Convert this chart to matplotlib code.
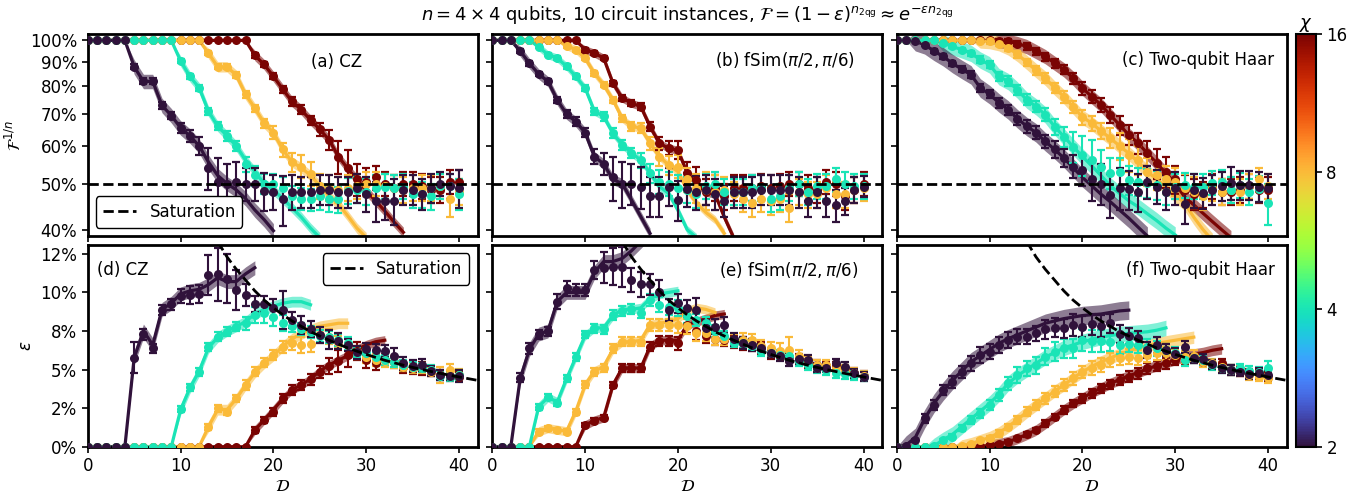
import matplotlib
matplotlib.use("Agg")
import matplotlib.pyplot as plt
import numpy as np
from matplotlib.colors import LogNorm
from matplotlib.cm import ScalarMappable
from matplotlib.ticker import NullLocator

# circuit depth of the data points, bond dimensions
depth = list(range(41))
chis = [2, 4, 8, 16]

# ---------------- top row: F^(1/n) in percent ----------------
# (a) CZ
fid_cz_2 = [100, 100, 100, 100, 100, 88, 82, 82, 73, 69.5, 65.5, 63, 60, 54, 50.5, 50, 50.5, 50, 50, 48.2,
            48, 46.3, 48, 48, 48, 48.5, 48.5, 48, 48, 49, 47.5, 46, 46, 46, 48.5, 48.5, 47.5, 49, 50, 49.5, 49]
fid_cz_2_err = [0, 0, 0, 0, 0, 1.0, 1.2, 1.2, 1.2, 1.3, 1.5, 1.8, 2.5, 5.5, 6.0, 5.0, 5.0, 4.0, 4.0, 4.5,
                4.0, 5.5, 4.0, 3.5, 3.5, 3.5, 3.5, 3.5, 3.5, 3.5, 4.0, 4.5, 4.0, 5.0, 3.5, 3.5, 3.5, 3.5, 3.0, 3.0, 4.5]
fid_cz_2_line = [100, 100, 100, 100, 100, 88, 82, 82, 73, 69.5, 65.5, 63, 60, 55.5, 52, 50, 48.5, 46.5, 44, 42, 39.8]

fid_cz_4 = [100, 100, 100, 100, 100, 100, 100, 100, 100, 100, 90.5, 84, 79.5, 71, 66, 63, 60, 55, 52, 50,
            50, 49, 47, 46.5, 46.3, 47, 46.5, 46.3, 48.3, 48.5, 48, 49, 49.3, 49, 49.3, 47.5, 47.5, 47, 49.5, 49.5, 47.5]
fid_cz_4_err = [0, 0, 0, 0, 0, 0, 0, 0, 0, 0, 1.0, 1.0, 1.2, 1.2, 1.3, 1.5, 1.5, 2.0, 2.5, 2.5,
                2.5, 2.5, 2.5, 2.5, 2.5, 3.0, 3.0, 3.0, 3.0, 3.0, 3.0, 3.0, 3.0, 3.0, 3.0, 3.0, 3.0, 3.0, 3.0, 3.0, 3.5]
fid_cz_4_line = [100, 100, 100, 100, 100, 100, 100, 100, 100, 100, 90.5, 84, 79.5, 71, 66, 63, 60, 56, 53, 50,
                 48.5, 46.5, 44.5, 42.5, 40.3, 38.5]

fid_cz_8 = [100, 100, 100, 100, 100, 100, 100, 100, 100, 100, 100, 100, 100, 94, 88, 88, 84.5, 77, 72, 67,
            64, 59, 55.5, 54.3, 52.5, 49.5, 49, 48.5, 49, 49.5, 50, 50, 49.5, 49, 48.5, 49, 49, 49, 49.5, 46.5, 48]
fid_cz_8_err = [0, 0, 0, 0, 0, 0, 0, 0, 0, 0, 0, 0, 0, 1.0, 1.0, 1.0, 1.2, 1.2, 1.3, 1.5,
                2.0, 2.0, 2.5, 3.0, 3.0, 3.0, 3.0, 3.0, 3.0, 3.0, 3.0, 3.0, 3.0, 3.0, 3.0, 3.0, 3.0, 3.0, 3.0, 4.0, 3.0]
fid_cz_8_line = [100, 100, 100, 100, 100, 100, 100, 100, 100, 100, 100, 100, 100, 94, 88, 88, 84.5, 77, 72, 67,
                 64, 59, 55.5, 54, 52, 49.5, 47, 45.3, 42.8, 40.3, 38.5]

fid_cz_16 = [100, 100, 100, 100, 100, 100, 100, 100, 100, 100, 100, 100, 100, 100, 100, 100, 100, 100, 93, 89,
             84, 79, 74.4, 71.5, 68, 65, 61.8, 57, 53.8, 51, 50.5, 51.5, 50, 49, 50, 50, 49.5, 48.5, 48.5, 50.5, 50.5]
fid_cz_16_err = [0, 0, 0, 0, 0, 0, 0, 0, 0, 0, 0, 0, 0, 0, 0, 0, 0, 0, 1.0, 1.2,
                 1.2, 1.3, 1.5, 1.5, 1.5, 2.0, 3.0, 4.5, 5.0, 4.0, 3.5, 3.0, 3.0, 3.0, 3.0, 3.0, 3.0, 3.0, 3.0, 3.0, 3.0]
fid_cz_16_line = [100, 100, 100, 100, 100, 100, 100, 100, 100, 100, 100, 100, 100, 100, 100, 100, 100, 100, 93, 89,
                  84, 79, 74.4, 71.5, 68, 65, 61.8, 57, 53.8, 51, 48.3, 46, 43.8, 41.5, 39.5]

# (b) fSim(pi/2, pi/6)
fid_fsim_2 = [100, 100, 100, 95, 89.5, 85, 82, 75, 70, 67.5, 64, 57, 55, 51.5, 50, 50, 49.3, 47, 47, 49.3,
              46.2, 48.6, 47.9, 48.5, 47.5, 46, 48, 48, 48, 48.5, 48.5, 48.5, 48.5, 48, 46, 48, 46, 45, 46, 48.5, 49.3]
fid_fsim_2_err = [0, 0, 0, 1.0, 1.0, 1.0, 1.0, 1.2, 1.3, 1.5, 1.5, 2.0, 3.0, 5.5, 5.5, 5.0, 5.0, 4.5, 4.5, 4.5,
                  4.5, 4.0, 4.0, 3.5, 3.5, 3.5, 3.5, 3.5, 3.5, 3.5, 3.5, 3.5, 3.5, 3.5, 3.5, 3.5, 3.5, 3.5, 3.0, 3.0, 2.5]
fid_fsim_2_line = [100, 100, 100, 95, 89.5, 85, 82, 75, 70, 67.5, 64, 57, 55, 51, 50, 46.2, 42.6, 39.3]

fid_fsim_4 = [100, 100, 100, 100, 100, 97, 93.3, 91.8, 88.2, 84, 79.4, 71, 69.2, 63.8, 60.3, 58, 56, 52.6, 50.5, 50,
              49, 48.5, 47.5, 49.5, 50, 48, 48, 48, 49, 49, 46.5, 47, 49, 50, 48, 49.5, 49.5, 51, 50, 49.5, 49.5]
fid_fsim_4_err = [0, 0, 0, 0, 0, 0.8, 0.8, 1.0, 1.0, 1.0, 1.2, 1.2, 1.5, 1.5, 1.5, 1.5, 2.0, 2.5, 3.0, 3.0,
                  3.0, 3.0, 3.0, 3.0, 3.0, 3.0, 3.0, 3.0, 3.0, 3.0, 3.0, 3.0, 3.0, 3.0, 3.0, 3.0, 3.0, 3.0, 3.0, 3.0, 3.0]
fid_fsim_4_line = [100, 100, 100, 100, 100, 97, 93.3, 91.8, 88.2, 84, 79.4, 71, 69.2, 63.8, 60.3, 58, 56, 52.6, 49.3, 47.7,
                   44, 40, 38.5]

fid_fsim_8 = [100, 100, 100, 100, 100, 100, 100, 100, 97.5, 95.6, 91.8, 85.3, 80.7, 75, 68.6, 66, 65.4, 60.8, 57, 54.7,
              54.3, 51, 49, 48.5, 48, 48.5, 47.5, 46.5, 45.5, 46.5, 46, 46.5, 44.5, 48, 47.5, 47.5, 49, 47.5, 47.5, 48.5, 49]
fid_fsim_8_err = [0, 0, 0, 0, 0, 0, 0, 0, 1.0, 1.0, 1.0, 1.0, 1.0, 1.2, 1.2, 1.5, 1.5, 2.0, 2.5, 2.5,
                  3.0, 3.0, 3.5, 4.5, 4.0, 3.0, 3.0, 3.0, 3.0, 3.0, 3.0, 3.0, 3.0, 3.0, 3.0, 3.0, 3.0, 3.0, 3.0, 3.0, 3.0]
fid_fsim_8_line = [100, 100, 100, 100, 100, 100, 100, 100, 97.5, 95.6, 91.8, 85.3, 80.7, 75, 68.6, 66, 65.4, 60.8, 57, 54.7,
                   53, 48.5, 45.5, 43.5, 42, 39.3]

fid_fsim_16 = [100, 100, 100, 100, 100, 100, 100, 100, 100, 100, 95.6, 94, 91.8, 81.3, 75.6, 73.8, 72.6, 65.9, 60.8, 59.3,
               58.8, 52.6, 50.8, 48, 49, 47, 49, 49, 49, 49.5, 49, 49.5, 50, 50, 49, 48.5, 50.5, 50, 47, 48.5, 50]
fid_fsim_16_err = [0, 0, 0, 0, 0, 0, 0, 0, 0, 0, 1.0, 1.0, 1.0, 1.0, 1.0, 1.0, 1.2, 1.5, 2.0, 2.0,
                   2.5, 3.0, 3.5, 3.0, 3.0, 3.0, 3.0, 3.0, 3.0, 3.0, 3.0, 3.0, 3.0, 3.0, 3.0, 3.0, 3.0, 3.0, 3.0, 3.0, 3.0]
fid_fsim_16_line = [100, 100, 100, 100, 100, 100, 100, 100, 100, 100, 95.6, 94, 91.8, 81.3, 75.6, 73.8, 72.6, 65.9, 60.8, 59.3,
                    58.8, 52.6, 50, 48, 47.5, 42.5, 38.5]

# (c) two-qubit Haar
fid_haar_2 = [100, 100, 99.5, 98, 95, 92.5, 89.5, 87, 84.7, 79.5, 77, 74, 71.5, 68.5, 66, 64, 61.3, 59, 56.6, 54.3,
              53.4, 51, 50, 47.3, 49, 48.6, 48, 50.5, 49.3, 48, 49, 45.2, 48.5, 47.8, 48.5, 49.5, 50.2, 49.7, 49.7, 49.3, 49]
fid_haar_2_err = [0, 0, 0.5, 0.8, 1.0, 1.0, 1.2, 1.2, 1.5, 1.5, 1.5, 1.8, 1.8, 2.0, 2.0, 2.0, 2.0, 2.5, 2.5, 3.0,
                  4.0, 5.0, 5.0, 5.0, 5.0, 4.5, 4.5, 4.0, 4.0, 4.0, 4.0, 4.0, 4.0, 3.5, 3.5, 3.5, 4.0, 3.5, 3.5, 3.5, 3.5]
fid_haar_2_line = [100, 100, 99.5, 98, 95, 92.5, 89.5, 87, 84.7, 79.5, 77, 74, 71.5, 68.5, 66, 64, 61.3, 59, 56.6, 54,
                   51.5, 49.5, 47.5, 45.8, 44, 42.3, 40.5, 38.8]

fid_haar_4 = [100, 100, 100, 100, 100, 98.7, 97.1, 95.6, 94, 91, 88.9, 84, 82, 78.7, 75, 72.6, 69.8, 65.9, 62.8, 59.8,
              57.4, 56.1, 54.3, 52.6, 53, 50.9, 50.5, 50.2, 49.7, 48.1, 49.3, 49.7, 49.3, 49.3, 50.2, 50.5, 48.5, 49.7, 48.1, 48.8, 45.5]
fid_haar_4_err = [0, 0, 0, 0, 0.5, 0.8, 0.8, 1.0, 1.2, 1.5, 1.5, 1.8, 2.0, 2.0, 2.0, 2.0, 2.2, 2.5, 3.0, 4.5,
                  5.5, 5.5, 4.5, 4.0, 3.5, 3.5, 3.5, 3.5, 3.5, 3.0, 3.0, 3.0, 3.0, 3.0, 3.0, 3.0, 3.0, 3.0, 3.0, 3.0, 4.5]
fid_haar_4_line = [100, 100, 100, 100, 100, 98.7, 97.1, 95.6, 94, 91, 88.9, 84, 82, 78.7, 75, 72.6, 69.8, 65.9, 62.8, 59.8,
                   57, 54.5, 52, 49.5, 47.7, 46, 44.7, 43.2, 41.8, 40.3, 39]

fid_haar_8 = [100, 100, 100, 100, 100, 100, 100, 100, 100, 99.8, 99.5, 98.5, 96.5, 93.5, 90, 86.5, 83.3, 79.5, 76.2, 72.5,
              69, 67, 64.5, 62.3, 60, 57.5, 56, 53, 52, 51, 50.5, 49, 48, 47, 49, 48, 48.5, 48, 49.5, 51, 49.5]
fid_haar_8_err = [0, 0, 0, 0, 0, 0, 0, 0, 0.5, 0.8, 1.0, 1.2, 1.5, 1.5, 1.5, 1.8, 2.0, 2.0, 2.2, 2.2,
                  2.5, 2.5, 2.5, 3.0, 4.0, 4.5, 4.0, 3.5, 3.5, 3.5, 3.5, 3.5, 3.5, 3.0, 3.0, 3.0, 3.0, 3.0, 3.0, 3.0, 3.0]
fid_haar_8_line = [100, 100, 100, 100, 100, 100, 100, 100, 100, 99.8, 99.5, 98.5, 96.5, 93.5, 90, 86.5, 83.3, 79.5, 76.2, 72.5,
                   69, 67, 64.5, 62.3, 60, 57.9, 55.5, 53, 51, 49.3, 47.3, 45.5, 42.5, 40, 38]

fid_haar_16 = [100, 100, 100, 100, 100, 100, 100, 100, 100, 100, 100, 99.8, 99.5, 98.5, 97.1, 94.8, 92.5, 89.6, 86.8, 83.3,
               79.4, 76.2, 73.2, 69.7, 66.4, 63.3, 60.8, 57.9, 55.2, 53, 51, 48.5, 47.5, 47.5, 49.5, 48, 48, 48.5, 49.5, 48.5, 48.5]
fid_haar_16_err = [0, 0, 0, 0, 0, 0, 0, 0, 0, 0, 0.5, 0.8, 1.0, 1.2, 1.5, 1.5, 1.8, 2.0, 2.0, 2.2,
                   2.5, 2.5, 2.5, 2.8, 3.0, 3.0, 3.0, 3.5, 4.0, 4.0, 3.5, 3.5, 3.5, 3.0, 3.0, 3.0, 3.0, 3.0, 3.0, 3.0, 3.0]
fid_haar_16_line = [100, 100, 100, 100, 100, 100, 100, 100, 100, 100, 100, 99.8, 99.5, 98.5, 97.1, 94.8, 92.5, 89.6, 86.8, 83.3,
                    79.4, 76.2, 73.2, 69.7, 66.4, 63.3, 60.8, 57.9, 55.2, 52.6, 50.1, 46.9, 45.1, 43.3, 41.6, 40, 38.5]

# ---------------- bottom row: epsilon in percent ----------------
# (d) CZ
eps_cz_2 = [0, 0, 0, 0, 0, 5.77, 7.28, 6.37, 8.86, 9.22, 9.76, 9.83, 9.9, 11.12, 11.17, 10.9, 10.15, 9.83, 9.24, 9.24,
            8.96, 8.86, 8.21, 7.88, 7.62, 7.24, 6.95, 6.85, 6.59, 6.11, 6.33, 6.26, 6.2, 5.9, 5.4, 5.23, 5.29, 4.9, 4.64, 4.6, 4.6]
eps_cz_2_err = [0, 0, 0, 0, 0, 1.0, 0.35, 0.3, 0.3, 0.35, 0.45, 0.6, 0.6, 1.3, 1.7, 1.6, 1.3, 0.7, 0.5, 0.5,
                0.6, 1.2, 0.5, 0.6, 0.5, 0.5, 0.6, 0.5, 0.4, 0.4, 0.4, 0.4, 0.4, 0.5, 0.4, 0.4, 0.4, 0.3, 0.3, 0.3, 0.4]
eps_cz_2_line = [0, 0, 0, 0, 0, 5.77, 7.5, 6.6, 8.9, 9.3, 9.9, 10.1, 10.2, 10.5, 10.95, 10.7, 10.7, 11.2, 11.6]

eps_cz_4 = [0, 0, 0, 0, 0, 0, 0, 0, 0, 0, 2.44, 3.84, 4.86, 6.48, 7.13, 7.45, 7.78, 7.99, 8.53, 8.64,
            8.42, 8.03, 7.84, 7.62, 7.45, 7.17, 7.13, 6.91, 6.7, 6.1, 6.05, 5.83, 5.62, 5.46, 5.29, 5.18, 5.12, 4.97, 4.6, 4.54, 4.64]
eps_cz_4_err = [0, 0, 0, 0, 0, 0, 0, 0, 0, 0, 0.2, 0.25, 0.25, 0.25, 0.3, 0.3, 0.3, 0.4, 0.5, 0.6,
                0.6, 0.5, 0.4, 0.4, 0.4, 0.4, 0.4, 0.4, 0.4, 0.3, 0.3, 0.3, 0.3, 0.3, 0.3, 0.3, 0.3, 0.3, 0.3, 0.3, 0.3]
eps_cz_4_line = [0, 0, 0, 0, 0, 0, 0, 0, 0, 0, 2.4, 3.8, 4.9, 6.4, 7.1, 7.5, 7.8, 8.1, 8.6, 8.9,
                 9.1, 9.3, 9.4, 9.4, 9.2]

eps_cz_8 = [0, 0, 0, 0, 0, 0, 0, 0, 0, 0, 0, 0, 0, 1.3, 2.48, 2.27, 3.13, 4.0, 4.86, 5.44,
            5.94, 6.48, 6.7, 6.59, 6.63, 7.24, 7.13, 6.8, 6.59, 6.11, 5.83, 5.62, 5.55, 5.5, 5.18, 5.08, 5.08, 4.86, 4.64, 4.97, 4.64]
eps_cz_8_err = [0, 0, 0, 0, 0, 0, 0, 0, 0, 0, 0, 0, 0, 0.2, 0.25, 0.2, 0.25, 0.3, 0.3, 0.3,
                0.35, 0.4, 0.4, 0.5, 0.5, 0.5, 0.5, 0.4, 0.4, 0.4, 0.4, 0.4, 0.4, 0.4, 0.3, 0.3, 0.3, 0.3, 0.5, 0.4, 0.4]
eps_cz_8_line = [0, 0, 0, 0, 0, 0, 0, 0, 0, 0, 0, 0, 0, 1.3, 2.4, 2.4, 3.1, 4.0, 4.8, 5.4,
                 5.9, 6.5, 7.0, 7.3, 7.6, 7.8, 7.9, 8.0, 8.0]

eps_cz_16 = [0, 0, 0, 0, 0, 0, 0, 0, 0, 0, 0, 0, 0, 0, 0, 0, 0, 0, 1.08, 1.73,
             2.27, 3.13, 3.67, 4.0, 4.38, 4.86, 5.23, 5.55, 5.94, 6.2, 5.62, 5.4, 5.62, 5.5, 5.18, 5.12, 5.08, 4.86, 4.64, 4.54, 4.54]
eps_cz_16_err = [0, 0, 0, 0, 0, 0, 0, 0, 0, 0, 0, 0, 0, 0, 0, 0, 0, 0, 0.2, 0.2,
                 0.25, 0.3, 0.3, 0.3, 0.35, 0.4, 0.5, 0.7, 0.8, 0.6, 0.5, 0.4, 0.4, 0.4, 0.4, 0.4, 0.4, 0.3, 0.3, 0.3, 0.3]
eps_cz_16_line = [0, 0, 0, 0, 0, 0, 0, 0, 0, 0, 0, 0, 0, 0, 0, 0, 0, 0, 1.08, 1.73,
                  2.4, 3.1, 3.7, 4.0, 4.4, 4.9, 5.3, 5.6, 5.9, 6.3, 6.6, 6.8, 6.9]

# (e) fSim(pi/2, pi/6)
eps_fsim_2 = [0, 0, 0, 4.47, 6.37, 7.28, 7.49, 9.4, 10.26, 10.15, 10.15, 11.45, 11.6, 11.66, 11.62, 10.8, 10.52, 10.52, 10.0, 8.86,
              9.29, 9.0, 8.86, 7.71, 7.78, 7.88, 6.95, 6.74, 6.59, 6.37, 6.05, 5.87, 5.55, 5.66, 5.62, 5.12, 5.12, 5.4, 5.18, 4.75, 4.54]
eps_fsim_2_err = [0, 0, 0, 0.3, 0.35, 0.3, 0.3, 0.5, 0.5, 0.4, 0.4, 0.6, 1.0, 1.2, 1.3, 0.8, 0.8, 0.7, 0.8, 0.7,
                  0.6, 0.5, 0.8, 0.5, 0.5, 0.5, 0.4, 0.4, 0.4, 0.3, 0.3, 0.3, 0.3, 0.3, 0.3, 0.3, 0.3, 0.3, 0.3, 0.3, 0.3]
eps_fsim_2_line = [0, 0, 0, 4.4, 6.3, 7.3, 7.5, 9.4, 10.0, 10.0, 10.0, 11.3, 12.0, 12.0, 12.2, 12.7, 13.3, 13.9]

eps_fsim_4 = [0, 0, 0, 0, 0, 2.6, 3.24, 2.81, 4.43, 5.83, 7.28, 7.67, 7.6, 8.53, 8.79, 8.92, 8.64, 9.5, 9.2, 9.05,
              9.0, 8.5, 8.2, 8.0, 7.5, 7.2, 6.75, 6.7, 6.55, 6.2, 6.1, 5.95, 5.85, 5.55, 5.3, 5.1, 4.95, 4.75, 4.7, 4.65, 4.55]
eps_fsim_4_err = [0, 0, 0, 0, 0, 0.2, 0.2, 0.2, 0.25, 0.25, 0.25, 0.3, 0.3, 0.3, 0.3, 0.3, 0.3, 0.4, 0.5, 0.5,
                  0.5, 0.5, 0.4, 0.4, 0.4, 0.3, 0.3, 0.3, 0.3, 0.3, 0.3, 0.3, 0.3, 0.3, 0.3, 0.3, 0.3, 0.3, 0.3, 0.3, 0.3]
eps_fsim_4_line = [0, 0, 0, 0, 0, 2.6, 3.2, 2.9, 4.4, 5.8, 7.2, 7.7, 7.7, 8.5, 8.9, 8.9, 9.0, 9.6, 9.9, 10.0, 10.1]

eps_fsim_8 = [0, 0, 0, 0, 0, 0.97, 1.19, 1.08, 0.97, 2.27, 4.04, 4.86, 5.08, 6.37, 6.8, 6.8, 6.8, 7.88, 7.88, 7.88,
              7.88, 7.8, 7.35, 7.35, 7.0, 7.0, 6.9, 6.9, 6.9, 6.5, 6.4, 6.2, 6.3, 5.85, 5.6, 5.3, 5.3, 5.1, 5.0, 4.8, 4.6]
eps_fsim_8_err = [0, 0, 0, 0, 0, 0.15, 0.15, 0.15, 0.15, 0.2, 0.25, 0.25, 0.25, 0.3, 0.3, 0.3, 0.3, 0.4, 0.4, 0.4,
                  0.5, 0.5, 0.5, 0.5, 0.4, 0.4, 0.4, 0.5, 0.4, 0.4, 0.4, 0.5, 0.8, 0.4, 0.3, 0.3, 0.3, 0.3, 0.3, 0.3, 0.3]
eps_fsim_8_line = [0, 0, 0, 0, 0, 1.0, 1.2, 1.1, 1.0, 2.3, 4.0, 4.9, 5.2, 6.3, 6.8, 6.8, 6.9, 7.9, 8.0, 8.1,
                   8.3, 8.8, 9.0, 8.9, 8.7]

eps_fsim_16 = [0, 0, 0, 0, 0, 0, 0, 0, 0, 0, 1.4, 1.68, 1.88, 4.0, 5.12, 5.12, 5.12, 6.48, 6.85, 6.85,
               6.7, 7.88, 7.5, 7.2, 7.0, 6.9, 6.8, 6.7, 6.6, 6.4, 6.0, 5.9, 5.8, 5.7, 5.4, 5.3, 5.2, 5.2, 5.0, 4.8, 4.6]
eps_fsim_16_err = [0, 0, 0, 0, 0, 0, 0, 0, 0, 0, 0.15, 0.15, 0.15, 0.2, 0.25, 0.25, 0.25, 0.3, 0.3, 0.3,
                   0.4, 0.5, 0.6, 0.5, 0.4, 0.4, 0.4, 0.4, 0.4, 0.4, 0.3, 0.3, 0.3, 0.3, 0.3, 0.3, 0.3, 0.3, 0.3, 0.3, 0.3]
eps_fsim_16_line = [0, 0, 0, 0, 0, 0, 0, 0, 0, 0, 1.4, 1.7, 1.9, 4.0, 5.1, 5.1, 5.1, 6.5, 6.9, 6.9,
                    6.9, 7.9, 8.1, 8.3, 8.5, 8.6]

# (f) two-qubit Haar
eps_haar_2 = [0, 0.04, 0.43, 1.84, 2.7, 3.67, 4.2, 4.86, 5.4, 5.94, 6.16, 6.59, 6.91, 7.13, 7.13, 7.34, 7.6, 7.71, 7.67, 7.88,
              7.78, 7.93, 7.84, 7.99, 7.3, 7.17, 7.02, 6.26, 6.59, 6.26, 5.98, 6.48, 5.72, 5.68, 5.33, 5.08, 4.97, 4.86, 4.69, 4.79, 4.64]
eps_haar_2_err = [0, 0, 0.1, 0.3, 0.3, 0.3, 0.4, 0.4, 0.5, 0.5, 0.5, 0.5, 0.5, 0.5, 0.5, 0.5, 0.6, 0.6, 0.6, 0.7,
                  0.7, 0.7, 0.7, 0.6, 0.6, 0.5, 0.5, 0.5, 0.5, 0.4, 0.4, 0.4, 0.3, 0.3, 0.3, 0.3, 0.3, 0.3, 0.3, 0.3, 0.3]
eps_haar_2_line = [0, 0.1, 0.6, 1.8, 2.8, 3.6, 4.3, 4.9, 5.5, 5.9, 6.3, 6.7, 7.0, 7.25, 7.5, 7.75, 8.0, 8.15, 8.3, 8.4,
                   8.5, 8.55, 8.6, 8.7, 8.8, 8.85]

eps_haar_4 = [0, 0, 0, 0, 0.04, 0.43, 0.65, 1.19, 1.73, 2.16, 2.7, 3.35, 4.1, 4.64, 5.08, 5.29, 5.83, 6.16, 6.37, 6.37,
              6.91, 6.85, 6.85, 6.8, 6.59, 6.63, 6.59, 6.48, 6.37, 6.26, 6.05, 5.62, 5.72, 5.62, 5.29, 5.08, 4.97, 5.08, 4.9, 4.86, 5.08]
eps_haar_4_err = [0, 0, 0, 0, 0.05, 0.1, 0.15, 0.2, 0.25, 0.3, 0.35, 0.4, 0.45, 0.5, 0.5, 0.55, 0.55, 0.6, 0.6, 0.6,
                  0.7, 0.7, 0.7, 0.6, 0.6, 0.5, 0.5, 0.5, 0.5, 0.4, 0.4, 0.4, 0.3, 0.3, 0.3, 0.3, 0.3, 0.3, 0.3, 0.3, 0.5]
eps_haar_4_line = [0, 0, 0, 0, 0.05, 0.45, 0.8, 1.3, 1.8, 2.3, 2.8, 3.4, 4.1, 4.6, 5.0, 5.4, 5.8, 6.1, 6.4, 6.6,
                   6.8, 6.95, 7.1, 7.2, 7.3, 7.35, 7.4, 7.45, 7.55, 7.7]

eps_haar_8 = [0, 0, 0, 0, 0, 0, 0, 0.02, 0.2, 0.43, 0.54, 0.86, 1.3, 1.73, 2.27, 2.7, 3.13, 3.56, 4.0, 4.43,
              4.86, 5.08, 5.29, 5.62, 5.72, 5.83, 5.77, 5.94, 6.05, 6.05, 5.94, 5.83, 5.9, 5.5, 5.4, 5.18, 4.97, 4.9, 4.64, 4.54, 4.43]
eps_haar_8_err = [0, 0, 0, 0, 0, 0, 0, 0, 0.05, 0.1, 0.15, 0.2, 0.2, 0.25, 0.3, 0.3, 0.35, 0.35, 0.4, 0.4,
                  0.4, 0.45, 0.45, 0.45, 0.45, 0.5, 0.5, 0.45, 0.45, 0.4, 0.4, 0.4, 0.35, 0.35, 0.3, 0.3, 0.3, 0.3, 0.3, 0.3, 0.3]
eps_haar_8_line = [0, 0, 0, 0, 0, 0, 0, 0.05, 0.2, 0.4, 0.6, 0.9, 1.3, 1.75, 2.25, 2.7, 3.15, 3.6, 4.0, 4.45,
                   4.85, 5.2, 5.5, 5.75, 6.0, 6.2, 6.4, 6.55, 6.7, 6.8, 6.9, 7.0, 7.1]

eps_haar_16 = [0, 0, 0, 0, 0, 0, 0, 0, 0, 0.02, 0.1, 0.2, 0.32, 0.54, 0.8, 1.08, 1.51, 1.94, 2.38, 2.81,
               3.13, 3.46, 3.78, 4.04, 4.32, 4.54, 4.75, 5.08, 5.23, 5.4, 5.62, 5.62, 5.72, 5.5, 5.33, 5.4, 4.97, 4.86, 4.75, 4.69, 4.54]
eps_haar_16_err = [0, 0, 0, 0, 0, 0, 0, 0, 0, 0, 0.05, 0.05, 0.1, 0.1, 0.15, 0.15, 0.2, 0.2, 0.25, 0.25,
                   0.3, 0.3, 0.3, 0.3, 0.35, 0.35, 0.35, 0.35, 0.35, 0.35, 0.35, 0.3, 0.3, 0.3, 0.3, 0.3, 0.3, 0.3, 0.3, 0.3, 0.3]
eps_haar_16_line = [0, 0, 0, 0, 0, 0, 0, 0, 0, 0, 0.1, 0.2, 0.32, 0.54, 0.8, 1.08, 1.5, 1.95, 2.4, 2.8,
                    3.15, 3.5, 3.8, 4.1, 4.35, 4.6, 4.8, 5.05, 5.25, 5.45, 5.65, 5.85, 6.0, 6.1, 6.25, 6.35]

# band half-widths (relative for top row, absolute % for bottom row), order chi = 2, 4, 8, 16
band_fid_cz = [0.035, 0.025, 0.025, 0.025]
band_fid_fsim = [0.025, 0.02, 0.02, 0.02]
band_fid_haar = [0.045, 0.04, 0.035, 0.035]
band_eps_cz = [0.45, 0.35, 0.35, 0.3]
band_eps_fsim = [0.45, 0.3, 0.3, 0.3]
band_eps_haar = [0.6, 0.5, 0.4, 0.35]

# saturation level
sat_fid = 50
sat_depth = [14, 15, 16, 17, 18, 19, 20, 21, 22, 24, 26, 28, 30, 32, 34, 36, 38, 40, 42]
sat_eps = [13.3, 12.3, 11.5, 10.8, 10.1, 9.5, 9.0, 8.55, 8.15, 7.45, 6.9, 6.4, 5.98, 5.6, 5.28, 5.0, 4.75, 4.52, 4.3]

top_panels = [
    ([fid_cz_2, fid_cz_4, fid_cz_8, fid_cz_16], [fid_cz_2_err, fid_cz_4_err, fid_cz_8_err, fid_cz_16_err],
     [fid_cz_2_line, fid_cz_4_line, fid_cz_8_line, fid_cz_16_line], band_fid_cz),
    ([fid_fsim_2, fid_fsim_4, fid_fsim_8, fid_fsim_16], [fid_fsim_2_err, fid_fsim_4_err, fid_fsim_8_err, fid_fsim_16_err],
     [fid_fsim_2_line, fid_fsim_4_line, fid_fsim_8_line, fid_fsim_16_line], band_fid_fsim),
    ([fid_haar_2, fid_haar_4, fid_haar_8, fid_haar_16], [fid_haar_2_err, fid_haar_4_err, fid_haar_8_err, fid_haar_16_err],
     [fid_haar_2_line, fid_haar_4_line, fid_haar_8_line, fid_haar_16_line], band_fid_haar),
]
bottom_panels = [
    ([eps_cz_2, eps_cz_4, eps_cz_8, eps_cz_16], [eps_cz_2_err, eps_cz_4_err, eps_cz_8_err, eps_cz_16_err],
     [eps_cz_2_line, eps_cz_4_line, eps_cz_8_line, eps_cz_16_line], band_eps_cz),
    ([eps_fsim_2, eps_fsim_4, eps_fsim_8, eps_fsim_16], [eps_fsim_2_err, eps_fsim_4_err, eps_fsim_8_err, eps_fsim_16_err],
     [eps_fsim_2_line, eps_fsim_4_line, eps_fsim_8_line, eps_fsim_16_line], band_eps_fsim),
    ([eps_haar_2, eps_haar_4, eps_haar_8, eps_haar_16], [eps_haar_2_err, eps_haar_4_err, eps_haar_8_err, eps_haar_16_err],
     [eps_haar_2_line, eps_haar_4_line, eps_haar_8_line, eps_haar_16_line], band_eps_haar),
]
top_labels = ["(a) CZ", r"(b) fSim$(\pi/2, \pi/6)$", "(c) Two-qubit Haar"]
bottom_labels = ["(d) CZ", r"(e) fSim$(\pi/2, \pi/6)$", "(f) Two-qubit Haar"]

plt.rcParams['font.size'] = 12
cmap = plt.get_cmap('turbo')
norm = LogNorm(vmin=2, vmax=16)

fig = plt.figure(figsize=(13.67, 4.94), dpi=100)
lefts = [0.0642, 0.3601, 0.656]
w, h = 0.2852, 0.4083
axes_top = [fig.add_axes([l, 0.5223, w, h]) for l in lefts]
axes_bot = [fig.add_axes([l, 0.0957, w, h]) for l in lefts]


def draw(ax, vals, errs, lines, bands, log_band, full):
    # large chi first so chi=2 ends up on top
    for i in [3, 2, 1, 0]:
        c = cmap(norm(chis[i]))
        line = np.array(lines[i], dtype=float)
        d = depth[:len(line)]
        if log_band:
            lo = np.where(line < full, line * (1 - bands[i]), line)
            hi = np.where(line < full, line * (1 + bands[i]), line)
        else:
            lo = np.where(line > 0, line - bands[i], line)
            hi = np.where(line > 0, line + bands[i], line)
        ax.fill_between(d, lo, hi, color=c, alpha=0.55, lw=0, zorder=2)
        ax.plot(d, line, color=c, lw=2.3, zorder=2.2)
    for i in [3, 2, 1, 0]:
        c = cmap(norm(chis[i]))
        ax.errorbar(depth, vals[i], yerr=errs[i], fmt='none', ecolor=c,
                    elinewidth=1.5, capsize=3.2, capthick=1.6, zorder=3)
    for i in [3, 2, 1, 0]:
        c = cmap(norm(chis[i]))
        ax.plot(depth, vals[i], 'o', ms=6.5, color=c, mew=0, zorder=3.5 + 0.1 * (3 - i))


def style(ax):
    for s in ax.spines.values():
        s.set_linewidth(2.0)
    ax.set_xlim(0, 42)
    ax.set_xticks([0, 10, 20, 30, 40])
    ax.tick_params(direction='out', length=4, width=1.2, labelsize=12)


for k, ax in enumerate(axes_top):
    vals, errs, lines, bands = top_panels[k]
    ax.set_yscale('log')
    draw(ax, vals, errs, lines, bands, True, 100)
    ax.axhline(sat_fid, color='k', ls='--', lw=2, zorder=4, label='Saturation')
    style(ax)
    ax.set_ylim(38.8, 103)
    ax.set_yticks([40, 50, 60, 70, 80, 90, 100])
    ax.yaxis.set_minor_locator(NullLocator())
    ax.set_xticklabels([])
    if k == 0:
        ax.set_yticklabels(['40%', '50%', '60%', '70%', '80%', '90%', '100%'])
        ax.set_ylabel(r'$\mathcal{F}^{1/n}$', fontsize=12)
        ax.legend(loc='lower left', fontsize=12, edgecolor='k', framealpha=1, borderaxespad=0.5)
    else:
        ax.set_yticklabels([])

for k, ax in enumerate(axes_bot):
    vals, errs, lines, bands = bottom_panels[k]
    draw(ax, vals, errs, lines, bands, False, 100)
    ax.plot(sat_depth, sat_eps, color='k', ls='--', lw=2, zorder=4, label='Saturation')
    style(ax)
    ax.set_ylim(0, 13.07)
    ax.set_yticks([0, 2.5, 5, 7.5, 10, 12.5])
    ax.set_xlabel(r'$\mathcal{D}$', fontsize=12, labelpad=1)
    if k == 0:
        ax.set_yticklabels(['0%', '2%', '5%', '8%', '10%', '12%'])
        ax.set_ylabel(r'$\varepsilon$', fontsize=12)
        ax.legend(loc='upper right', fontsize=12, edgecolor='k', framealpha=1, borderaxespad=0.5)
    else:
        ax.set_yticklabels([])

# panel labels
axes_top[0].text(0.704, 0.864, top_labels[0], transform=axes_top[0].transAxes, ha='right', va='center', fontsize=12)
axes_top[1].text(0.93, 0.873, top_labels[1], transform=axes_top[1].transAxes, ha='right', va='center', fontsize=12)
axes_top[2].text(0.969, 0.873, top_labels[2], transform=axes_top[2].transAxes, ha='right', va='center', fontsize=12)
axes_bot[0].text(0.023, 0.876, bottom_labels[0], transform=axes_bot[0].transAxes, ha='left', va='center', fontsize=12)
axes_bot[1].text(0.939, 0.876, bottom_labels[1], transform=axes_bot[1].transAxes, ha='right', va='center', fontsize=12)
axes_bot[2].text(0.969, 0.876, bottom_labels[2], transform=axes_bot[2].transAxes, ha='right', va='center', fontsize=12)

fig.text(0.503, 0.970,
         r'$n=4\times4$ qubits, 10 circuit instances, $\mathcal{F}=(1-\varepsilon)^{n_{\rm 2qg}}\approx e^{-\varepsilon n_{\rm 2qg}}$',
         ha='center', va='center', fontsize=13)

# colorbar for chi
cax = fig.add_axes([0.948, 0.0957, 0.0146, 0.835])
cb = fig.colorbar(ScalarMappable(norm=norm, cmap=cmap), cax=cax)
cb.set_ticks([2, 4, 8, 16])
cb.set_ticklabels(['2', '4', '8', '16'])
cb.ax.yaxis.set_minor_locator(NullLocator())
cb.outline.set_linewidth(1.5)
cax.tick_params(labelsize=12, length=4, width=1.2)
cax.set_title(r'$\chi$', fontsize=13, pad=3)

fig.savefig('out.png', dpi=100)
